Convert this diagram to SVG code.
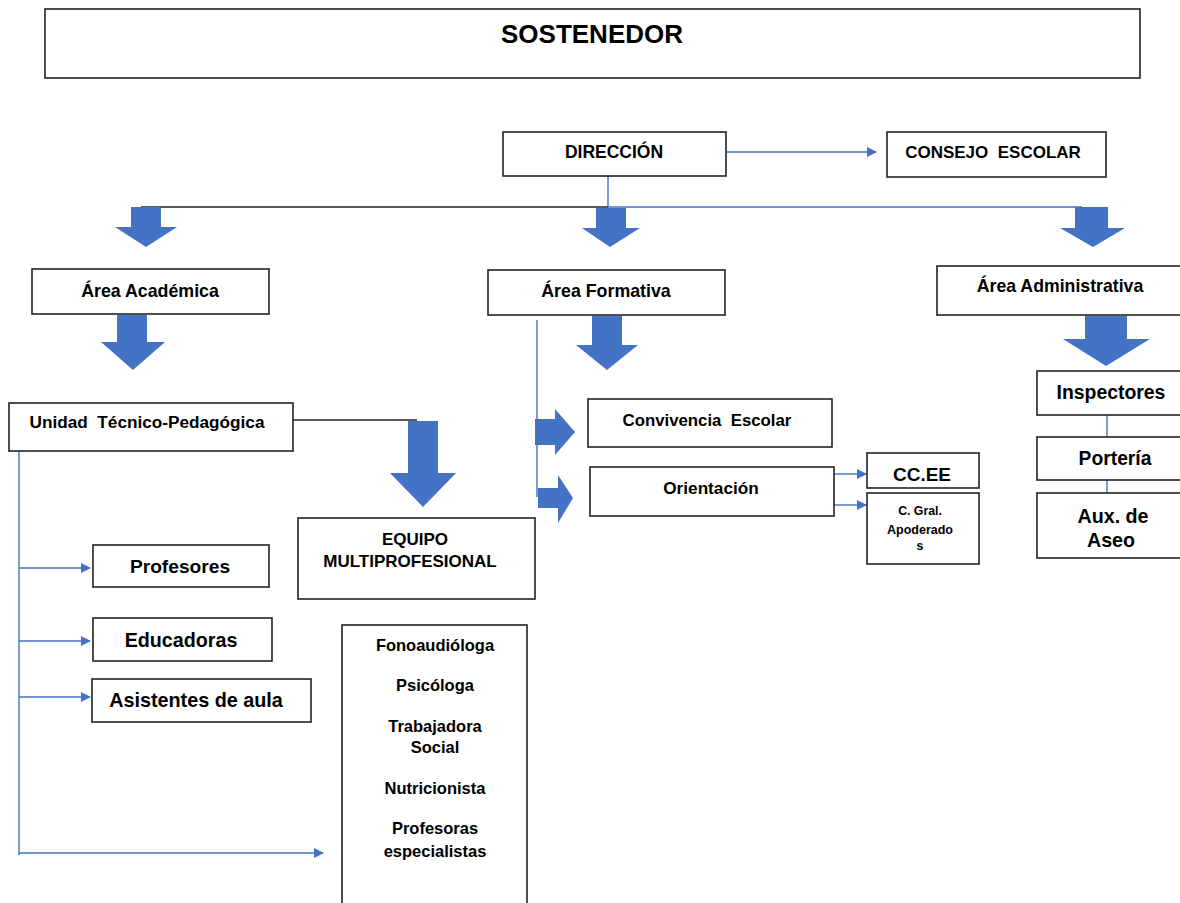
<svg xmlns="http://www.w3.org/2000/svg" width="1180" height="903" viewBox="0 0 1180 903">
<defs>
<style>
.box{fill:#fff;stroke:#222;stroke-width:1.6}
.t{font-family:"Liberation Sans",Arial,sans-serif;font-weight:bold;fill:#000;text-anchor:middle}
.ln{stroke:#4472C4;stroke-width:1.4;fill:none}
.blk{stroke:#222;stroke-width:1.4;fill:none}
.ba{fill:#4472C4}
</style>
<marker id="ah" viewBox="0 0 10 10" refX="9" refY="5" markerWidth="10" markerHeight="10" markerUnits="userSpaceOnUse" orient="auto"><path d="M0,0 L10,5 L0,10 Z" fill="#4472C4"/></marker>
</defs>
<rect width="1180" height="903" fill="#fff"/>

<g id="connectors">
<line class="ln" x1="726" y1="152" x2="876" y2="152" marker-end="url(#ah)"/>
<line class="ln" x1="608" y1="176" x2="608" y2="207"/>
<line class="blk" x1="141" y1="207" x2="608" y2="207"/>
<line class="ln" x1="608" y1="207" x2="1082" y2="207"/>
<path class="ba" d="M131,207 H161 V227 H177 L146,247 L115,227 H131 Z"/>
<path class="ba" d="M596,208 H626 V228 H640 L610,247 L582,228 H596 Z"/>
<path class="ba" d="M1075,207 H1108 V228 H1125 L1093,247 L1060,228 H1075 Z"/>
<path class="ba" d="M117,315 H147 V342 H165 L133,370 L101,342 H117 Z"/>
<path class="ba" d="M592,316 H622 V345 H638 L607,370 L576,345 H592 Z"/>
<path class="ba" d="M1085,316 H1127 V339 H1150 L1106,366 L1063,339 H1085 Z"/>
<line class="blk" x1="292" y1="420" x2="417" y2="420"/>
<path class="ba" d="M408,421 H438 V473 H456 L423,507 L390,473 H408 Z"/>
<line class="ln" x1="19" y1="451" x2="19" y2="855"/>
<line class="ln" x1="19" y1="568" x2="90" y2="568" marker-end="url(#ah)"/>
<line class="ln" x1="19" y1="641" x2="90" y2="641" marker-end="url(#ah)"/>
<line class="ln" x1="19" y1="697" x2="90" y2="697" marker-end="url(#ah)"/>
<line class="ln" x1="19" y1="853" x2="323" y2="853" marker-end="url(#ah)"/>
<line class="ln" x1="537" y1="320" x2="537" y2="497"/>
<path class="ba" d="M535,419 H555 V409 L575,432 L555,455 V445 H535 Z"/>
<path class="ba" d="M538,488 H558 V475 L573,498 L558,523 V508 H538 Z"/>
<line class="ln" x1="834" y1="474" x2="866" y2="474" marker-end="url(#ah)"/>
<line class="ln" x1="834" y1="505" x2="866" y2="505" marker-end="url(#ah)"/>
<line class="ln" x1="1107" y1="415" x2="1107" y2="437"/>
<line class="ln" x1="1107" y1="480" x2="1107" y2="493"/>
</g>

<g id="sostenedor"><rect class="box" x="45" y="9" width="1095" height="69"/><text class="t" x="592" y="43" font-size="26">SOSTENEDOR</text></g>
<g id="direccion"><rect class="box" x="503" y="132" width="223" height="44"/><text class="t" x="614" y="158" font-size="17.5">DIRECCIÓN</text></g>
<g id="consejo"><rect class="box" x="887" y="132" width="219" height="45"/><text class="t" x="993" y="158" font-size="17" xml:space="preserve">CONSEJO  ESCOLAR</text></g>
<g id="academica"><rect class="box" x="32" y="269" width="237" height="45"/><text class="t" x="150" y="296.5" font-size="17.8">Área Académica</text></g>
<g id="formativa"><rect class="box" x="488" y="270" width="237" height="45"/><text class="t" x="606" y="297" font-size="17.8">Área Formativa</text></g>
<g id="administrativa"><rect class="box" x="937" y="266" width="250" height="49"/><text class="t" x="1060" y="292" font-size="17.7">Área Administrativa</text></g>
<g id="utp"><rect class="box" x="9" y="403" width="284" height="48"/><text class="t" x="147" y="428" font-size="17.2" xml:space="preserve">Unidad  Técnico-Pedagógica</text></g>
<g id="equipo"><rect class="box" x="298" y="518" width="237" height="81"/><text class="t" x="415" y="545" font-size="17">EQUIPO</text><text class="t" x="410" y="567" font-size="17">MULTIPROFESIONAL</text></g>
<g id="profesores"><rect class="box" x="93" y="545" width="176" height="42"/><text class="t" x="180" y="573" font-size="19.2">Profesores</text></g>
<g id="educadoras"><rect class="box" x="93" y="618" width="179" height="43"/><text class="t" x="181" y="647" font-size="19.7">Educadoras</text></g>
<g id="asistentes"><rect class="box" x="92" y="679" width="219" height="43"/><text class="t" x="196" y="707" font-size="19.8">Asistentes de aula</text></g>
<g id="especialistas"><rect class="box" x="342" y="625" width="185" height="290"/>
<text class="t" x="435" y="651" font-size="16.5">Fonoaudióloga</text>
<text class="t" x="435" y="691" font-size="16.5">Psicóloga</text>
<text class="t" x="435" y="732" font-size="16.5">Trabajadora</text>
<text class="t" x="435" y="753" font-size="16.5">Social</text>
<text class="t" x="435" y="794" font-size="16.5">Nutricionista</text>
<text class="t" x="435" y="834" font-size="16.5">Profesoras</text>
<text class="t" x="435" y="857" font-size="16.5">especialistas</text></g>
<g id="convivencia"><rect class="box" x="588" y="399" width="244" height="48"/><text class="t" x="707" y="426" font-size="16.8" xml:space="preserve">Convivencia  Escolar</text></g>
<g id="orientacion"><rect class="box" x="590" y="467" width="244" height="49"/><text class="t" x="711" y="494" font-size="17.2">Orientación</text></g>
<g id="ccee"><rect class="box" x="867" y="453" width="112" height="35"/><text class="t" x="922" y="481" font-size="19">CC.EE</text></g>
<g id="cgral"><rect class="box" x="867" y="493" width="112" height="71"/><text class="t" x="920" y="515" font-size="12.3">C. Gral.</text><text class="t" x="920" y="533.5" font-size="12.5">Apoderado</text><text class="t" x="920" y="550" font-size="12.3">s</text></g>
<g id="inspectores"><rect class="box" x="1037" y="371" width="150" height="44"/><text class="t" x="1111" y="399" font-size="19.4">Inspectores</text></g>
<g id="porteria"><rect class="box" x="1037" y="437" width="150" height="43"/><text class="t" x="1115" y="465" font-size="19.3">Portería</text></g>
<g id="aseo"><rect class="box" x="1037" y="493" width="150" height="65"/><text class="t" x="1113" y="523" font-size="19.7">Aux. de</text><text class="t" x="1111" y="547" font-size="19.7">Aseo</text></g>
</svg>
